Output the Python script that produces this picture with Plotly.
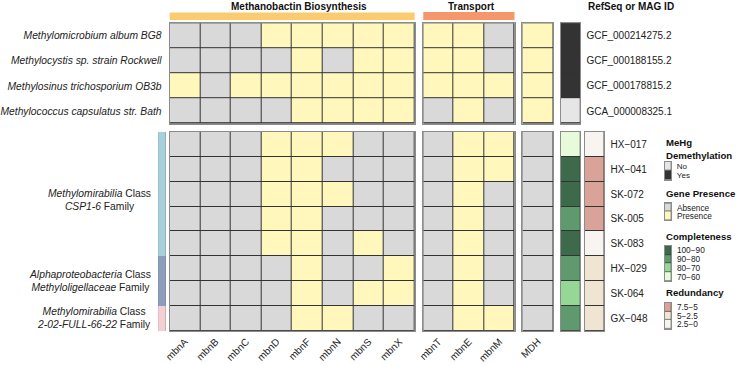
import plotly.graph_objects as go

W, H = 737, 365
FONT = "Liberation Sans, Arial, sans-serif"

# ---------------- data ----------------
genes_biosynthesis = ["mbnA", "mbnB", "mbnC", "mbnD", "mbnF", "mbnN", "mbnS", "mbnX"]
genes_transport = ["mbnT", "mbnE", "mbnM"]
gene_mdh = ["MDH"]

ref_genomes = ["Methylomicrobium album BG8", "Methylocystis sp. strain Rockwell",
               "Methylosinus trichosporium OB3b", "Methylococcus capsulatus str. Bath"]
ref_ids = ["GCF_000214275.2", "GCF_000188155.2", "GCF_000178815.2", "GCA_000008325.1"]
ref_biosynthesis = [[0, 0, 0, 1, 1, 1, 1, 1],
                    [0, 0, 0, 0, 1, 0, 1, 1],
                    [1, 0, 1, 1, 1, 1, 1, 1],
                    [0, 0, 0, 0, 1, 1, 1, 1]]
ref_transport = [[1, 1, 0], [1, 1, 0], [1, 1, 1], [0, 1, 0]]
ref_mdh = [1, 1, 1, 1]
ref_mehg = ["Yes", "Yes", "Yes", "No"]

mag_ids = ["HX\u2212017", "HX\u2212041", "SK-072", "SK-005", "SK-083", "HX\u2212029", "SK-064", "GX\u2212048"]
mag_biosynthesis = [[0, 0, 0, 1, 1, 1, 0, 0],
                    [0, 0, 0, 1, 1, 0, 0, 0],
                    [0, 0, 0, 1, 1, 1, 0, 0],
                    [0, 0, 0, 1, 1, 0, 0, 0],
                    [0, 0, 0, 1, 1, 0, 1, 0],
                    [0, 0, 0, 0, 1, 0, 0, 1],
                    [0, 0, 0, 0, 1, 0, 1, 1],
                    [0, 0, 0, 0, 1, 1, 0, 0]]
mag_transport = [[0, 1, 1], [0, 1, 1], [0, 1, 0], [0, 1, 0], [0, 1, 0], [0, 1, 0], [0, 1, 0], [0, 1, 1]]
mag_mdh = [0, 0, 0, 0, 0, 0, 0, 0]
completeness_levels = ["100\u221290", "90\u221280", "80\u221270", "70\u221260"]
mag_completeness = ["70\u221260", "100\u221290", "100\u221290", "90\u221280", "100\u221290",
                    "90\u221280", "80\u221270", "90\u221280"]
redundancy_levels = ["7.5\u22125", "5\u22122.5", "2.5\u22120"]
mag_redundancy = ["2.5\u22120", "7.5\u22125", "7.5\u22125", "7.5\u22125", "2.5\u22120",
                  "5\u22122.5", "5\u22122.5", "5\u22122.5"]
group_levels = ["CSP1-6", "Methyloligellaceae", "2-02-FULL-66-22"]
group_labels = ["<i>Methylomirabilia</i> Class<br><i>CSP1-6</i> Family",
                "<i>Alphaproteobacteria</i> Class<br><i>Methyloligellaceae</i> Family",
                "<i>Methylomirabilia</i> Class<br><i>2-02-FULL-66-22</i> Family"]
mag_group = ["CSP1-6"] * 5 + ["Methyloligellaceae"] * 2 + ["2-02-FULL-66-22"]
mehg_levels = ["No", "Yes"]
presence_levels = ["Absence", "Presence"]

# ---------------- styles ----------------
GREY, YELLOW = "#D9D9D9", "#FFF7BC"
presence_colors = [GREY, YELLOW]
mehg_colors = ["#E6E6E6", "#333333"]
completeness_colors = ["#3C6A4A", "#5E9A6E", "#95D895", "#E7FADA"]
redundancy_colors = ["#D9A39A", "#F0E4D3", "#F8F5F0"]
group_colors = ["#A8D0DB", "#8B9EBE", "#F5CFD3"]
BORDER = "#8C8C8C"


def dx(a, b):
    return [a / W, b / W]


def dy(a, b):
    return [1 - b / H, 1 - a / H]


def cscale(colors):
    n = len(colors)
    if n == 1:
        return [[0, colors[0]], [1, colors[0]]]
    return [[i / (n - 1), c] for i, c in enumerate(colors)]


fig = go.Figure()
layout = {}
ax_i = [0]


def add_block(z, colors, xdom, ydom, xlabels=None, ylabels=None, yside="left",
              gap=1, line=True, ylabfont=None, xlabfont=None, standoff=None, lw=1.2):
    ax_i[0] += 1
    k = ax_i[0]
    sfx = "" if k == 1 else str(k)
    nrow, ncol = len(z), len(z[0])
    fig.add_trace(go.Heatmap(
        z=z, x=list(range(ncol)), y=list(range(nrow)),
        colorscale=cscale(colors), zmin=0, zmax=max(len(colors) - 1, 1),
        showscale=False, xgap=gap, ygap=gap, hoverinfo="skip",
        xaxis="x" + sfx, yaxis="y" + sfx))
    xa = dict(domain=xdom, anchor="y" + sfx, range=[-0.5, ncol - 0.5],
              showgrid=False, zeroline=False, showline=line, mirror=line,
              linecolor=BORDER, linewidth=lw, ticks="", fixedrange=True)
    if xlabels:
        xa.update(tickmode="array", tickvals=list(range(ncol)), ticktext=xlabels,
                  tickangle=-45, tickfont=xlabfont or dict(size=10, color="#222"))
    else:
        xa.update(showticklabels=False)
    ya = dict(domain=ydom, anchor="x" + sfx, range=[nrow - 0.5, -0.5],
              showgrid=False, zeroline=False, showline=line, mirror=line,
              linecolor=BORDER, linewidth=lw, ticks="", side=yside, fixedrange=True)
    if ylabels:
        ya.update(tickmode="array", tickvals=list(range(nrow)), ticktext=ylabels,
                  tickfont=ylabfont or dict(size=10, color="#222"))
        if standoff is not None:
            ya.update(ticklabelstandoff=standoff)
    else:
        ya.update(showticklabels=False)
    layout["xaxis" + sfx] = xa
    layout["yaxis" + sfx] = ya
    return "x" + sfx, "y" + sfx


TOP = dy(22.3, 123.3)
BOT = dy(131.7, 331.7)
X_GENES = dx(165, 412)
X_TRANS = dx(420.7, 512.7)
X_MDH = dx(520.7, 551.7)
X_ANN1 = dx(559.3, 579)
X_ANN2 = dx(583.3, 603.3)

# reference genomes block
xg1, _ = add_block(ref_biosynthesis, presence_colors, X_GENES, TOP,
                   ylabels=["<i>%s</i>" % s for s in ref_genomes], standoff=5,
                   ylabfont=dict(size=10.3, color="#222"))
xt1, _ = add_block(ref_transport, presence_colors, X_TRANS, TOP)
add_block([[v] for v in ref_mdh], presence_colors, X_MDH, TOP)
add_block([[mehg_levels.index(v)] for v in ref_mehg], mehg_colors, X_ANN1, TOP,
          ylabels=ref_ids, yside="right", standoff=3)

# MAG block
add_block(mag_biosynthesis, presence_colors, X_GENES, BOT, xlabels=genes_biosynthesis)
add_block(mag_transport, presence_colors, X_TRANS, BOT, xlabels=genes_transport)
add_block([[v] for v in mag_mdh], presence_colors, X_MDH, BOT, xlabels=gene_mdh)
add_block([[completeness_levels.index(v)] for v in mag_completeness], completeness_colors, X_ANN1, BOT)
add_block([[redundancy_levels.index(v)] for v in mag_redundancy], redundancy_colors, X_ANN2, BOT,
          ylabels=mag_ids, yside="right", standoff=3)
_, ygrp = add_block([[group_levels.index(v)] for v in mag_group], group_colors, dx(153.3, 161), BOT,
                    gap=0, line=False)

# legends as small heatmaps
X_LEG = dx(664, 670.7)
LEGFONT = dict(size=8.3, color="#222")
add_block([[i] for i in range(2)], mehg_colors, X_LEG, dy(161.5, 179.5),
          ylabels=mehg_levels, yside="right", ylabfont=dict(size=8, color="#222"),
          standoff=3, gap=0.6, lw=1)
add_block([[i] for i in range(2)], presence_colors, X_LEG, dy(203.5, 220.5),
          ylabels=presence_levels, yside="right", ylabfont=LEGFONT, standoff=3, gap=0.6, lw=1)
add_block([[i] for i in range(4)], completeness_colors, X_LEG, dy(246.5, 281.5),
          ylabels=completeness_levels, yside="right", ylabfont=LEGFONT, standoff=3, gap=0.6, lw=1)
add_block([[i] for i in range(3)], redundancy_colors, X_LEG, dy(303.5, 329.5),
          ylabels=redundancy_levels, yside="right", ylabfont=LEGFONT, standoff=3, gap=0.6, lw=1)

annotations = []
# group labels
for g, lab in zip(group_levels, group_labels):
    idx = [i for i, v in enumerate(mag_group) if v == g]
    ctr = (idx[0] + idx[-1]) / 2
    annotations.append(dict(text=lab, xref="paper", yref=ygrp, x=148 / W, y=ctr,
                            xanchor="right", yanchor="middle", align="center", showarrow=False,
                            yshift=-6 if len(idx) >= 5 else 0,
                            font=dict(size=10.3, color="#222")))

# headers
hdr_y = 1 - 5.5 / H
annotations.append(dict(text="<b>Methanobactin Biosynthesis</b>", xref="paper", yref="paper",
                        x=295 / W, y=hdr_y, showarrow=False, xanchor="center", yanchor="middle",
                        font=dict(size=10, color="#111")))
annotations.append(dict(text="<b>Transport</b>", xref="paper", yref="paper",
                        x=469 / W, y=hdr_y, showarrow=False, xanchor="center", yanchor="middle",
                        font=dict(size=10, color="#111")))
annotations.append(dict(text="<b>RefSeq or MAG ID</b>", xref="paper", yref="paper",
                        x=630 / W, y=hdr_y, showarrow=False, xanchor="center", yanchor="middle",
                        font=dict(size=10, color="#111")))
# legend titles
for txt, ypx in [("MeHg", 142.5), ("Demethylation", 155), ("Gene Presence", 194),
                 ("Completeness", 236.5), ("Redundancy", 293.5)]:
    annotations.append(dict(text="<b>%s</b>" % txt, xref="paper", yref="paper",
                            x=663 / W, y=1 - ypx / H, showarrow=False, xanchor="left",
                            yanchor="middle", font=dict(size=9.6, color="#111")))

shapes = [
    dict(type="rect", xref=xg1 + " domain", yref="paper", x0=0, x1=1,
         y0=1 - 19 / H, y1=1 - 11.5 / H, fillcolor="#FBCB70", line=dict(width=0), layer="above"),
    dict(type="rect", xref=xt1 + " domain", yref="paper", x0=0, x1=1,
         y0=1 - 19 / H, y1=1 - 11 / H, fillcolor="#F6966B", line=dict(width=0), layer="above"),
]

fig.update_layout(
    width=W, height=H, margin=dict(l=0, r=0, t=0, b=0),
    paper_bgcolor="white", plot_bgcolor="#333333",
    font=dict(family=FONT, size=10, color="#222"),
    showlegend=False, annotations=annotations, shapes=shapes, **layout)

fig.write_html("out.html", config={"displayModeBar": False})
